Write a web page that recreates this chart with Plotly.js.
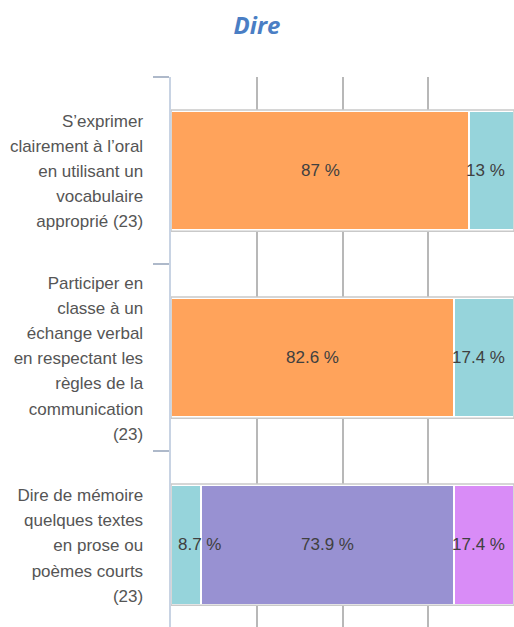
<!DOCTYPE html>
<html>
<head>
<meta charset="utf-8">
<script src="https://cdn.plot.ly/plotly-3.0.1.min.js"></script>
<style>html,body{margin:0;padding:0;background:#fff}#chart{width:514px;height:627px}</style>
</head>
<body>
<div id="chart"></div>
<script>
// ---- data ----
const categories = [
  "S’exprimer clairement à l’oral en utilisant un vocabulaire approprié (23)",
  "Participer en classe à un échange verbal en respectant les règles de la communication (23)",
  "Dire de mémoire quelques textes en prose ou poèmes courts (23)"
];
const tickLabels = [
  "S’exprimer<br>clairement à l’oral<br>en utilisant un<br>vocabulaire<br>approprié (23)",
  "Participer en<br>classe à un<br>échange verbal<br>en respectant les<br>règles de la<br>communication<br>(23)",
  "Dire de mémoire<br>quelques textes<br>en prose ou<br>poèmes courts<br>(23)"
];
const seriesNames = ["Série 1", "Série 2", "Série 3", "Série 4"];
const seriesOrange = [87, 82.6, null];
const seriesTeal = [13, 17.4, 8.7];
const seriesPurple = [null, null, 73.9];
const seriesPink = [null, null, 17.4];
const seriesColors = ["#ffa35b", "#96d4db", "#9891d2", "#d98cf7"];

const allSeries = [seriesOrange, seriesTeal, seriesPurple, seriesPink];

// ---- layout constants ----
const W = 514, H = 627;
const M = {l: 171, r: 0, t: 77, b: 0};
const plotW = W - M.l - M.r;
const barWidth = 0.64;

const traces = allSeries.map((vals, k) => ({
  type: "bar",
  orientation: "h",
  name: seriesNames[k],
  y: categories,
  x: vals,
  width: barWidth,
  marker: {color: seriesColors[k], line: {color: "#ffffff", width: 2}},
  hoverinfo: "none"
}));

// text measuring for labels
const cv = document.createElement("canvas").getContext("2d");
const labelFontSize = 17;
cv.font = labelFontSize + "px 'Liberation Sans'";

const annotations = [];
const shapes = [];
categories.forEach((cat, i) => {
  let start = 0;
  allSeries.forEach(vals => {
    const v = vals[i];
    if (v === null || v === undefined) return;
    const txt = v + " %";
    const w = cv.measureText(txt).width;
    const centerPx = (start + v / 2) / 100 * plotW;
    let ann = {x: start + v / 2, xanchor: "center", xshift: 0};
    if (centerPx - w / 2 < 6) ann = {x: 0, xanchor: "left", xshift: 5};
    else if (centerPx + w / 2 > plotW - 8) ann = {x: 100, xanchor: "right", xshift: -7};
    annotations.push(Object.assign(ann, {
      xref: "x", yref: "y", y: cat, text: txt, showarrow: false,
      font: {family: "Liberation Sans, Arial, sans-serif", size: labelFontSize, color: "#404040"}
    }));
    start += v;
  });
  // grey outline around the whole bar
  shapes.push({
    type: "rect", xref: "x", yref: "y", layer: "above",
    x0: 0, x1: 100, y0: i - barWidth / 2 - 0.004, y1: i + barWidth / 2 + 0.004,
    line: {color: "#c9c9c9", width: 1.5}, fillcolor: "rgba(0,0,0,0)"
  });
});

const layout = {
  width: W, height: H,
  margin: M,
  paper_bgcolor: "#ffffff",
  plot_bgcolor: "#ffffff",
  showlegend: false,
  barmode: "stack",
  bargap: 0.36,
  title: {
    text: "Dire",
    font: {family: "Open Sans", size: 24, color: "#4a7ec4", weight: "bold", style: "italic"},
    x: 0.5, xanchor: "center", y: 1 - 26 / H, yanchor: "middle"
  },
  xaxis: {
    range: [0, 100], dtick: 25, tick0: 0,
    showgrid: true, gridcolor: "#b8b8b8", gridwidth: 2,
    zeroline: false, showline: false, showticklabels: false, ticks: ""
  },
  yaxis: {
    type: "category",
    range: [2.44, -0.5],
    tickvals: categories,
    ticktext: tickLabels.map(t => '<span style="font-size:17px">' + t.split("<br>").join('</span><br><span style="font-size:17px">') + '</span>'),
    tickson: "boundaries",
    ticks: "outside", ticklen: 16, tickwidth: 2, tickcolor: "#aeb9ca",
    showline: true, linecolor: "#c8d3e3", linewidth: 2,
    showgrid: false, zeroline: false,
    ticklabelstandoff: 22,
    tickfont: {family: "Liberation Sans, Arial, sans-serif", size: 19.3, color: "#555555"}
  },
  annotations: annotations,
  shapes: shapes
};

Plotly.newPlot("chart", traces, layout, {displayModeBar: false, staticPlot: true});
</script>
</body>
</html>
